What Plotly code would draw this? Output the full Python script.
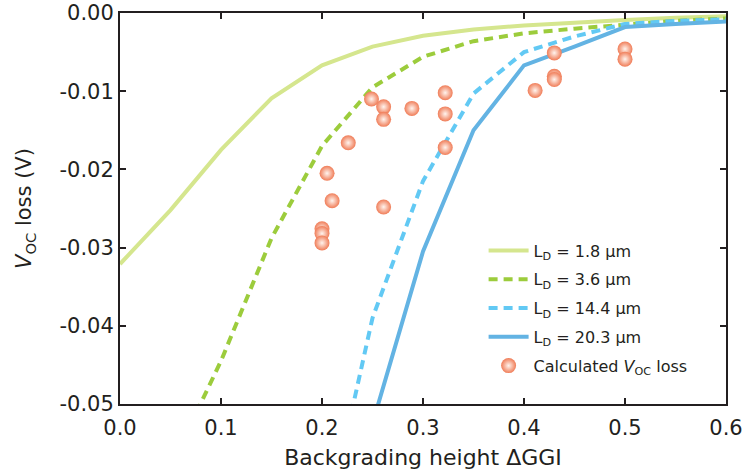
import plotly.graph_objects as go

# LD = 1.8 um
x_18 = [0.0, 0.05, 0.1, 0.15, 0.2, 0.25, 0.3, 0.35, 0.4, 0.45, 0.5, 0.55, 0.6]
y_18 = [-0.0321, -0.0252, -0.0175, -0.0109, -0.0067, -0.0043, -0.0029, -0.0021, -0.0016, -0.0012, -0.0009, -0.0006, -0.0004]
# LD = 3.6 um
x_36 = [0.05, 0.1, 0.15, 0.2, 0.25, 0.3, 0.35, 0.4, 0.45, 0.5, 0.55, 0.6]
y_36 = [-0.058, -0.0445, -0.0288, -0.0170, -0.0095, -0.0056, -0.0036, -0.0026, -0.0020, -0.0015, -0.0010, -0.0007]
# LD = 14.4 um
x_144 = [0.2, 0.25, 0.3, 0.35, 0.4, 0.45, 0.5, 0.55, 0.6]
y_144 = [-0.068, -0.0390, -0.0215, -0.0103, -0.0050, -0.0030, -0.0014, -0.0010, -0.0008]
# LD = 20.3 um
x_203 = [0.25, 0.3, 0.35, 0.4, 0.45, 0.5, 0.55, 0.6]
y_203 = [-0.0525, -0.0305, -0.0150, -0.0067, -0.0043, -0.0018, -0.0014, -0.0011]
# Calculated Voc loss
x_calc = [0.2, 0.2, 0.2, 0.205, 0.21, 0.226, 0.249, 0.261, 0.261, 0.261, 0.289, 0.322, 0.322, 0.322, 0.411, 0.43, 0.43, 0.43, 0.5, 0.5]
y_calc = [-0.0276, -0.0282, -0.0294, -0.0205, -0.0240, -0.0166, -0.0110, -0.0120, -0.0136, -0.0248, -0.0122, -0.0102, -0.0129, -0.0172, -0.0099, -0.0051, -0.0081, -0.0085, -0.0046, -0.0059]

x_ticks = [0.0, 0.1, 0.2, 0.3, 0.4, 0.5, 0.6]
x_labels = ["0.0", "0.1", "0.2", "0.3", "0.4", "0.5", "0.6"]
y_ticks = [0.0, -0.01, -0.02, -0.03, -0.04, -0.05]
y_labels = ["0.00", "-0.01", "-0.02", "-0.03", "-0.04", "-0.05"]

FONT = "DejaVu Sans"
INK = "#231f20"

fig = go.Figure()
fig.add_trace(go.Scatter(x=x_18, y=y_18, mode="lines", name="L<sub>D</sub> = 1.8 μm", legendgroup="a",
                         line=dict(color="#d5e68e", width=4)))
fig.add_trace(go.Scatter(x=x_36, y=y_36, mode="lines", name="L<sub>D</sub> = 3.6 μm", legendgroup="b",
                         line=dict(color="#9ccc3c", width=4, dash="9px,6px")))
fig.add_trace(go.Scatter(x=x_144, y=y_144, mode="lines", name="L<sub>D</sub> = 14.4 μm", legendgroup="c",
                         line=dict(color="#62c9f4", width=4, dash="9px,6px")))
fig.add_trace(go.Scatter(x=x_203, y=y_203, mode="lines", name="L<sub>D</sub> = 20.3 μm", legendgroup="d",
                         line=dict(color="#63b3e3", width=4)))
fig.add_trace(go.Scatter(x=x_calc, y=y_calc, mode="markers", name="Calculated <i>V</i><sub>OC</sub> loss",
                         legendgroup="e",
                         marker=dict(size=15, color="#f07d58",
                                     gradient=dict(type="radial", color="#fff4ee"),
                                     line=dict(width=0))))

axis_common = dict(showline=True, linecolor=INK, linewidth=2, mirror="ticks",
                   ticks="inside", ticklen=6, tickwidth=1.5, tickcolor=INK,
                   showgrid=False, zeroline=False, automargin=False,
                   tickfont=dict(family=FONT, size=21, color=INK))

fig.update_layout(
    width=748, height=476,
    margin=dict(l=120, r=22, t=13, b=72),
    plot_bgcolor="white", paper_bgcolor="white",
    xaxis=dict(range=[0, 0.6], tickvals=x_ticks, ticktext=x_labels, ticklabelstandoff=4,
               title=dict(text="Backgrading height ΔGGI", standoff=10,
                          font=dict(family=FONT, size=22, color=INK)),
               **axis_common),
    yaxis=dict(range=[-0.05, 0], tickvals=y_ticks, ticktext=y_labels,
               title=dict(text="<i>V</i><sub>OC</sub> loss (V)", standoff=22,
                          font=dict(family=FONT, size=21, color=INK)),
               **axis_common),
    legend=dict(x=0.6, y=0.436, xanchor="left", yanchor="top", bgcolor="rgba(0,0,0,0)",
                font=dict(family=FONT, size=16, color=INK),
                tracegroupgap=5, itemwidth=40),
    showlegend=True,
)

fig.write_html("out.html")
